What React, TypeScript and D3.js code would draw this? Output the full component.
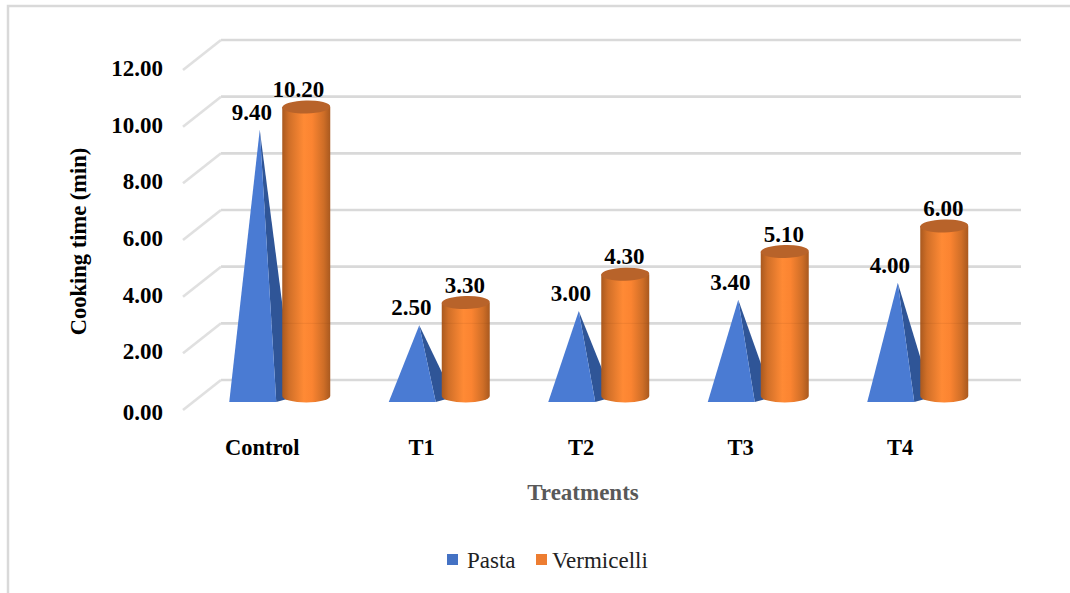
import React from "react";
import * as d3 from "d3";

const categories = ["Control", "T1", "T2", "T3", "T4"];
const pasta = [9.4, 2.5, 3.0, 3.4, 4.0];
const vermicelli = [10.2, 3.3, 4.3, 5.1, 6.0];
const ticks = [0, 2, 4, 6, 8, 10, 12];

const W = 1070;
const H = 593;
const FONT = "'Liberation Serif', serif";

export default function App() {
  const x = d3.scaleBand<string>().domain(categories).range([182.5, 980]).padding(0);
  const y = d3.scaleLinear().domain([0, 12]).range([396, 396 - 340]);
  const back = d3.scaleLinear().domain([0, 12]).range([380, 40]);
  const tickY = (v: number) => (v === 0 ? 420 : back(v) + 36);
  const baseY = 402;
  const cornerY = 397;
  const rx = 24;
  const ry = 6.5;

  return (
    <svg width={W} height={H} style={{ position: "absolute", left: 0, top: 0, background: "#fff" }} fontFamily={FONT}>
      <defs>
        <linearGradient id="cyl" x1="0" x2="1" y1="0" y2="0">
          <stop offset="0" stopColor="#a9591f" />
          <stop offset="0.14" stopColor="#d06f28" />
          <stop offset="0.45" stopColor="#ff8a35" />
          <stop offset="0.62" stopColor="#fb8431" />
          <stop offset="0.86" stopColor="#cf6e27" />
          <stop offset="1" stopColor="#a9591f" />
        </linearGradient>
      </defs>

      <path d={`M8 593V6H${W}`} fill="none" stroke="#d9d9d9" strokeWidth={2.5} />

      {ticks.map((t) => (
        <g key={t} stroke="#d9d9d9" strokeWidth={2.6} fill="none">
          <line x1={221} x2={1021} y1={back(t)} y2={back(t)} />
          <line x1={183} x2={221} y1={back(t) + 30} y2={back(t)} stroke="#e0e0e0" />
        </g>
      ))}

      {ticks.map((t) => (
        <text key={t} x={163} y={tickY(t)} textAnchor="end" fontSize={23} fontWeight={700} fill="#000">
          {d3.format(".2f")(t)}
        </text>
      ))}

      {categories.map((c, i) => {
        const cx = x(c)! + x.bandwidth() / 2;
        const top = y(pasta[i]);
        const ax = cx - 2.5;
        const left = cx - 33;
        const right = cx + 14;
        const corner = cx + 32;
        const cl = cx + 20;
        const cr = cl + rx * 2;
        const cc = cl + rx;
        const ct = y(vermicelli[i]);
        const b = y(0);
        return (
          <g key={c}>
            <path d={`M${ax} ${top}L${corner} ${cornerY}L${right} ${baseY}Z`} fill="#2f5597" />
            <path d={`M${ax} ${top}L${right} ${baseY}H${left}Z`} fill="#4a7bd3" />
            <path
              d={`M${cl} ${ct}V${b}A${rx} ${ry} 0 0 0 ${cr} ${b}V${ct}Z`}
              fill="url(#cyl)"
            />
            <ellipse cx={cc} cy={ct} rx={rx} ry={ry} fill="#b8632a" transform={`rotate(-1.5 ${cc} ${ct})`} />
            <line x1={cl} x2={cr} y1={back(2)} y2={back(2)} stroke="#7a3f10" strokeOpacity={back(2) > ct ? 0.1 : 0} />
            <text x={ax - 8} y={top - 10} textAnchor="middle" fontSize={23} fontWeight={700} fill="#000">
              {d3.format(".2f")(pasta[i])}
            </text>
            <text x={cc - (i === 0 ? 8 : 1)} y={ct - 10} textAnchor="middle" fontSize={23} fontWeight={700} fill="#000">
              {d3.format(".2f")(vermicelli[i])}
            </text>
            <text x={cx} y={454.5} textAnchor="middle" fontSize={22.5} fontWeight={700} fill="#000">
              {c}
            </text>
          </g>
        );
      })}

      <text
        transform="translate(86,241.5) rotate(-90)"
        textAnchor="middle"
        fontSize={22.5}
        fontWeight={700}
        fill="#000"
      >
        Cooking time (min)
      </text>
      <text x={583} y={500} textAnchor="middle" fontSize={23} fontWeight={700} fill="#595959">
        Treatments
      </text>

      <rect x={447} y={554} width={11} height={11} fill="#4472c4" />
      <text x={467} y={568} fontSize={23} fill="#222">Pasta</text>
      <rect x={536} y={554} width={11} height={11} fill="#ed7d31" />
      <text x={552} y={568} fontSize={23} fill="#222">Vermicelli</text>
    </svg>
  );
}
